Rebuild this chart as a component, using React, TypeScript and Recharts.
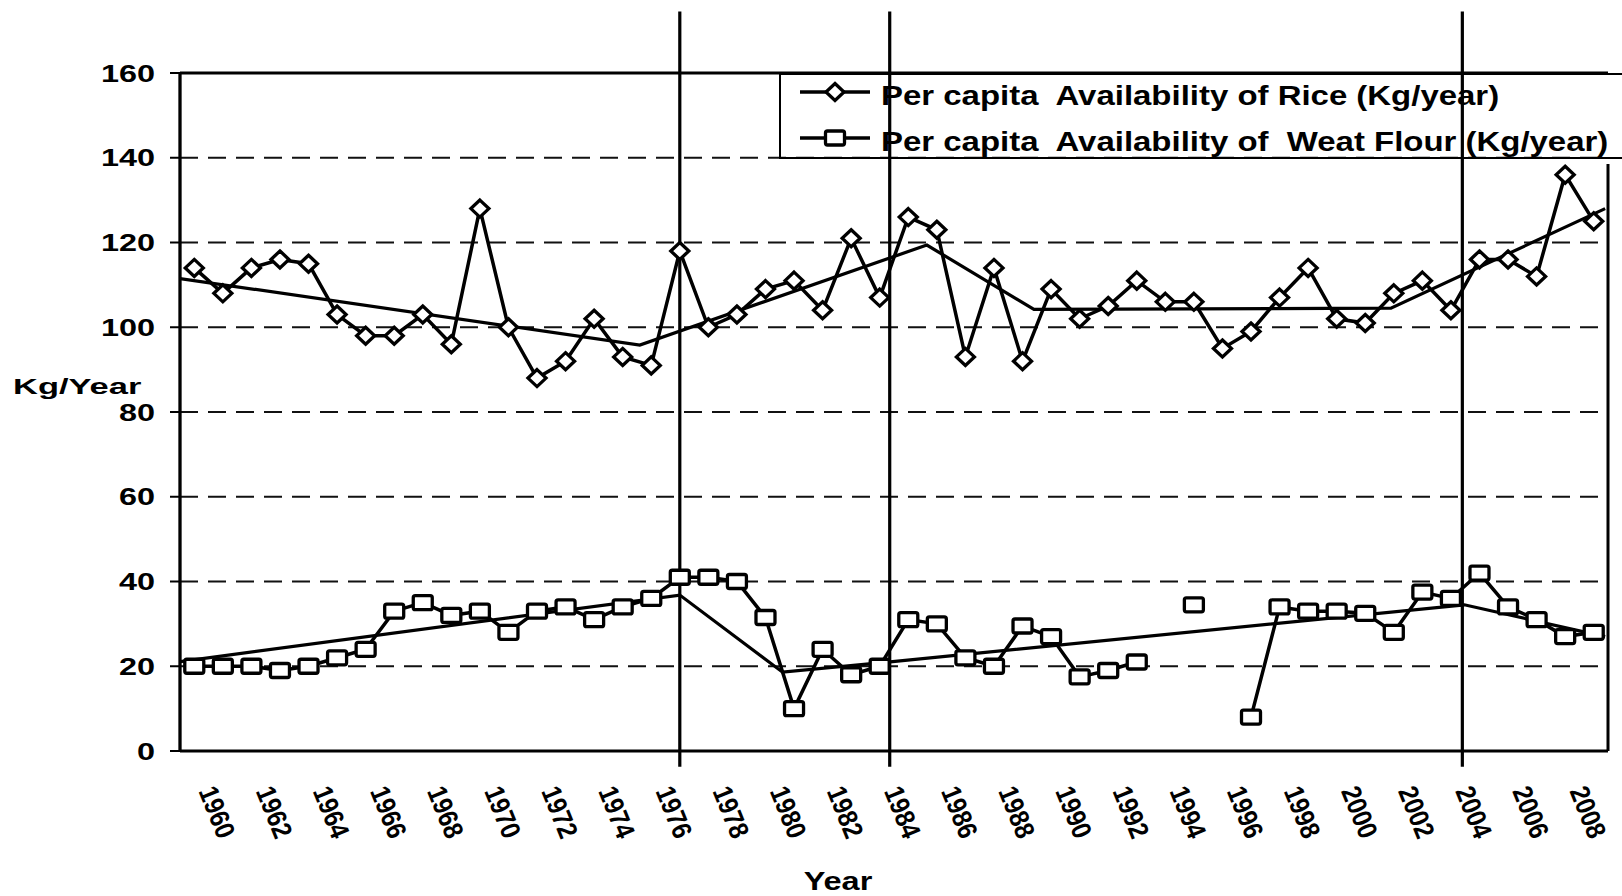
import { LineChart, Line, XAxis, YAxis, CartesianGrid, ReferenceLine, Legend } from 'recharts';

const FONT = '"Liberation Sans", Arial, sans-serif';

// categories
const years = [
  1960, 1961, 1962, 1963, 1964, 1965, 1966, 1967, 1968, 1969,
  1970, 1971, 1972, 1973, 1974, 1975, 1976, 1977, 1978, 1979,
  1980, 1981, 1982, 1983, 1984, 1985, 1986, 1987, 1988, 1989,
  1990, 1991, 1992, 1993, 1994, 1995, 1996, 1997, 1998, 1999,
  2000, 2001, 2002, 2003, 2004, 2005, 2006, 2007, 2008, 2009,
];

// per capita availability of rice (kg/year)
const riceValues = [
  114, 108, 114, 116, 115, 103, 98, 98, 103, 96,
  128, 100, 88, 92, 102, 93, 91, 118, 100, 103,
  109, 111, 104, 121, 107, 126, 123, 93, 114, 92,
  109, 102, 105, 111, 106, 106, 95, 99, 107, 114,
  102, 101, 108, 111, 104, 116, 116, 112, 136, 125,
];

// per capita availability of wheat flour (kg/year), gaps where missing
const flourValues = [
  20, 20, 20, 19, 20, 22, 24, 33, 35, 32,
  33, 28, 33, 34, 31, 34, 36, 41, 41, 40,
  31.5, 10, 24, 18, 20, 31, 30, 22, 20, 29.5,
  27, 17.5, 19, 21, null, 34.5, null, 8, 34, 33,
  33, 32.5, 28, 37.5, 36, 42, 34, 31, 27, 28,
];

// segmented trend lines (break points)
const riceTrend = [
  { year: 1959.5, value: 111.5 },
  { year: 1975.6, value: 95.8 },
  { year: 1985.65, value: 119.4 },
  { year: 1989.4, value: 104.2 },
  { year: 2001.9, value: 104.5 },
  { year: 2009.4, value: 128 },
];

const flourTrend = [
  { year: 1959.5, value: 21.1 },
  { year: 1977, value: 36.8 },
  { year: 1980.6, value: 18.6 },
  { year: 1984.45, value: 21.1 },
  { year: 2004.47, value: 34.5 },
  { year: 2009.4, value: 27 },
];

// hand drawn vertical markers (through 1976, 1984, 2004 labels)
const breakLines = [1977, 1984.35, 2004.4];

const yTicks = [0, 20, 40, 60, 80, 100, 120, 140, 160];
const labelYears = years.filter((y) => y % 2 === 0);
const tickBounds = [...years.map((y) => y - 0.5), years[years.length - 1] + 0.5];

const legendItems = [
  { label: 'Per capita  Availability of Rice (Kg/year)', shape: 'diamond' },
  { label: 'Per capita  Availability of  Weat Flour (Kg/year)', shape: 'square' },
];

const table = years.map((year, i) => ({ year, rice: riceValues[i], flour: flourValues[i] }));

const DiamondDot = (props: any) => {
  const { cx, cy, index } = props;
  if (cx == null || cy == null || props.value == null) return <g key={`rd-${index}`} />;
  return (
    <path
      key={`rd-${index}`}
      d={`M${cx} ${cy - 8.5} L${cx + 9} ${cy} L${cx} ${cy + 8.5} L${cx - 9} ${cy} Z`}
      fill="#fff"
      stroke="#000"
      strokeWidth={3.3}
    />
  );
};

const SquareDot = (props: any) => {
  const { cx, cy, index } = props;
  if (cx == null || cy == null || props.value == null) return <g key={`fd-${index}`} />;
  return <rect key={`fd-${index}`} x={cx - 9.5} y={cy - 7} width={19} height={14} rx={2} fill="#fff" stroke="#000" strokeWidth={3.3} />;
};

const ValueTick = (props: any) => {
  const { x, y, payload } = props;
  return (
    <text
      transform={`translate(${x} ${y}) scale(1.35 1)`}
      textAnchor="end"
      dy="0.36em"
      fontSize={24}
      fontWeight={700}
      fontFamily={FONT}
      fill="#000"
    >
      {payload.value}
    </text>
  );
};

const YearTick = (props: any) => {
  const { x, y, payload } = props;
  const tx = x + 4;
  const ty = y + 32;
  return (
    <text
      transform={`rotate(68 ${tx} ${ty}) translate(${tx} ${ty}) scale(1 1.15)`}
      textAnchor="start"
      fontSize={24}
      fontWeight={700}
      fontFamily={FONT}
      fill="#000"
    >
      {payload.value}
    </text>
  );
};

const kgLabel = (props: any) => {
  const { viewBox } = props;
  return (
    <text
      transform={`translate(${viewBox.x - 87} ${viewBox.y + 321}) scale(1.5 1)`}
      fontSize={23}
      fontWeight={700}
      fontFamily={FONT}
      fill="#000"
    >
      Kg/Year
    </text>
  );
};

const yearLabel = (props: any) => {
  const { viewBox } = props;
  return (
    <text
      transform={`translate(${viewBox.x + 658} ${viewBox.y + 131}) scale(1.3 1)`}
      textAnchor="middle"
      fontSize={25}
      fontWeight={700}
      fontFamily={FONT}
      fill="#000"
    >
      Year
    </text>
  );
};

const renderLegend = () => (
  <div
    style={{
      width: 870,
      height: 86,
      border: '2px solid #000',
      boxSizing: 'border-box',
      position: 'relative',
      fontFamily: FONT,
    }}
  >
    {legendItems.map((item, i) => (
      <div
        key={item.label}
        style={{ position: 'absolute', left: 0, top: 1 + i * 46, height: 32, display: 'flex', alignItems: 'center' }}
      >
        <svg width={100} height={32} style={{ display: 'block' }}>
          <line x1={19} x2={89} y1={16} y2={16} stroke="#000" strokeWidth={3.3} />
          {item.shape === 'diamond' ? (
            <path d="M54 7.5 L63 16 L54 24.5 L45 16 Z" fill="#fff" stroke="#000" strokeWidth={3.3} />
          ) : (
            <rect x={44.5} y={9} width={19} height={14} rx={2} fill="#fff" stroke="#000" strokeWidth={3.3} />
          )}
        </svg>
        <span
          style={{
            display: 'inline-block',
            whiteSpace: 'pre',
            fontSize: 27,
            fontWeight: 700,
            color: '#000',
            transform: 'translateY(4px) scaleX(1.22)',
            transformOrigin: 'left center',
            lineHeight: '32px',
          }}
        >
          {item.label}
        </span>
      </div>
    ))}
  </div>
);

export default function App() {
  return (
    <div style={{ position: 'absolute', left: 0, top: 0, width: 1622, height: 896, background: '#fff', overflow: 'hidden' }}>
      <LineChart width={1622} height={896} data={table} margin={{ top: 73, right: 14, bottom: 37, left: 100 }}>
        <CartesianGrid vertical={false} stroke="#111" strokeWidth={2} strokeDasharray="18 10" />
        <XAxis
          xAxisId={0}
          type="number"
          dataKey="year"
          domain={[1959.5, 2009.5]}
          allowDataOverflow
          ticks={tickBounds}
          interval={0}
          tick={false}
          tickSize={7}
          tickLine={{ stroke: '#000', strokeWidth: 2 }}
          axisLine={{ stroke: '#000', strokeWidth: 3 }}
          height={8}
        />
        <XAxis
          xAxisId="lab"
          type="number"
          dataKey="year"
          domain={[1959.5, 2009.5]}
          allowDataOverflow
          ticks={labelYears}
          interval={0}
          tick={(p: any) => <YearTick {...p} />}
          tickSize={0}
          tickMargin={0}
          tickLine={false}
          axisLine={false}
          height={100}
          label={yearLabel}
        />
        <YAxis
          domain={[0, 160]}
          ticks={yTicks}
          interval={0}
          width={80}
          tickSize={10}
          tickMargin={15}
          tick={(p: any) => <ValueTick {...p} />}
          tickLine={{ stroke: '#000', strokeWidth: 2 }}
          axisLine={{ stroke: '#000', strokeWidth: 3.3 }}
          label={kgLabel}
        />
        <ReferenceLine y={160} stroke="#000" strokeWidth={2.8} />
        <ReferenceLine segment={[{ x: 2009.5, y: 0 }, { x: 2009.5, y: 138.5 }]} stroke="#000" strokeWidth={3} />
        <Line
          data={riceTrend}
          dataKey="value"
          stroke="#000"
          strokeWidth={3.2}
          dot={false}
          legendType="none"
          isAnimationActive={false}
        />
        <Line
          data={flourTrend}
          dataKey="value"
          stroke="#000"
          strokeWidth={3.2}
          dot={false}
          legendType="none"
          isAnimationActive={false}
        />
        <Line
          dataKey="rice"
          name="Per capita  Availability of Rice (Kg/year)"
          stroke="#000"
          strokeWidth={3.5}
          dot={DiamondDot}
          isAnimationActive={false}
        />
        <Line
          dataKey="flour"
          name="Per capita  Availability of  Weat Flour (Kg/year)"
          stroke="#000"
          strokeWidth={3.5}
          dot={SquareDot}
          isAnimationActive={false}
        />
        {breakLines.map((yr) => (
          <ReferenceLine
            key={yr}
            segment={[{ x: yr, y: -3.7 }, { x: yr, y: 174.5 }]}
            ifOverflow="visible"
            stroke="#000"
            strokeWidth={3.2}
          />
        ))}
        <Legend
          layout="horizontal"
          verticalAlign="middle"
          content={renderLegend}
          wrapperStyle={{ left: 779, top: 73, width: 870, height: 86 }}
        />
      </LineChart>
    </div>
  );
}
